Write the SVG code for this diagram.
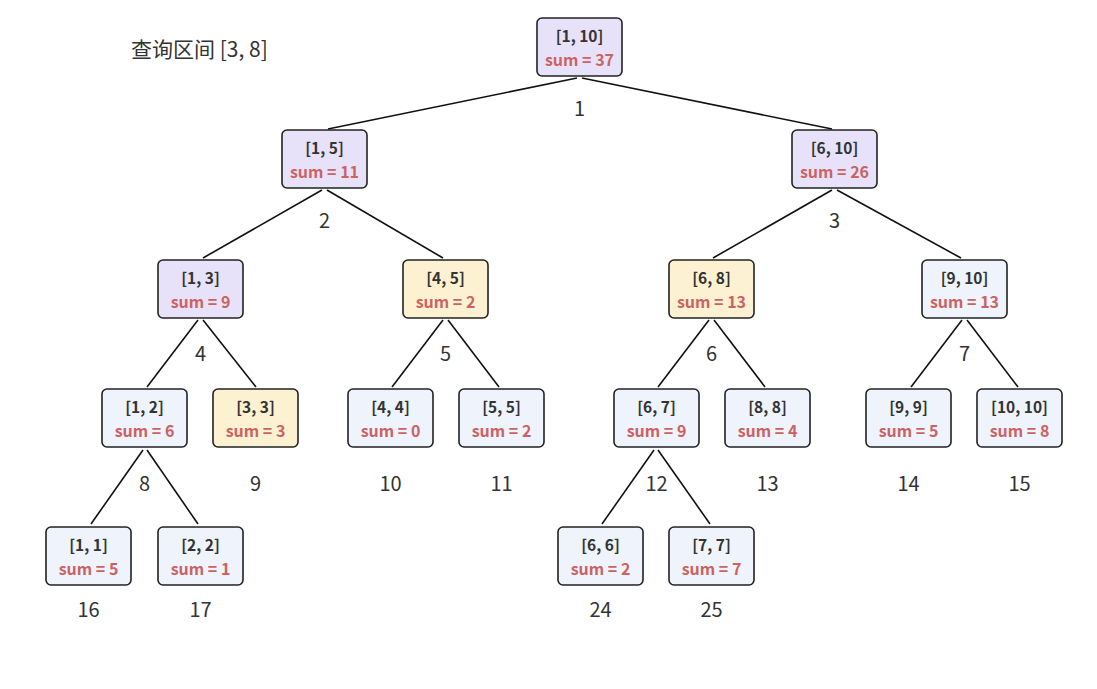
<svg xmlns="http://www.w3.org/2000/svg" width="1097" height="689" viewBox="0 0 1097 689">
<style>
.box{stroke:#222;stroke-width:1.6}
.p{fill:#E7E2FA}.y{fill:#FCF2D2}.b{fill:#EFF3FC}
.t{font-family:"Noto Sans CJK SC","Noto Sans",sans-serif;font-size:15.5px;font-weight:bold;fill:#333;text-anchor:middle}
.s{font-family:"Noto Sans CJK SC","Noto Sans",sans-serif;font-size:16px;font-weight:600;fill:#CC6262;text-anchor:middle}
.i{font-family:"Noto Sans CJK SC","Noto Sans",sans-serif;font-size:20px;fill:#333;text-anchor:middle}
.e{stroke:#111;stroke-width:1.6;fill:none}
</style>
<rect width="1097" height="689" fill="#fff"/>
<text x="131" y="57" style="font-family:'Noto Sans CJK SC','Noto Sans',sans-serif;font-size:21px;fill:#333">查询区间 [3, 8]</text>
<g id="edges">
<line class="e" x1="577" y1="78" x2="328" y2="129"/>
<line class="e" x1="582" y1="78" x2="832" y2="129"/>
<line class="e" x1="322" y1="190" x2="203" y2="258"/>
<line class="e" x1="327" y1="190" x2="443" y2="258"/>
<line class="e" x1="832" y1="190" x2="713" y2="258"/>
<line class="e" x1="837" y1="190" x2="961" y2="258"/>
<line class="e" x1="198" y1="320" x2="147" y2="387"/>
<line class="e" x1="203" y1="320" x2="256" y2="387"/>
<line class="e" x1="443" y1="320" x2="392" y2="387"/>
<line class="e" x1="448" y1="320" x2="499" y2="387"/>
<line class="e" x1="709" y1="320" x2="658" y2="387"/>
<line class="e" x1="714" y1="320" x2="765" y2="387"/>
<line class="e" x1="962" y1="320" x2="911" y2="387"/>
<line class="e" x1="967" y1="320" x2="1018" y2="387"/>
<line class="e" x1="143" y1="450" x2="91" y2="524"/>
<line class="e" x1="147" y1="450" x2="198" y2="524"/>
<line class="e" x1="654" y1="450" x2="602" y2="524"/>
<line class="e" x1="658" y1="450" x2="710" y2="524"/>
</g>
<g id="n1"><rect class="box p" x="537" y="18" width="85" height="58" rx="5"/><text class="t" x="579.5" y="42">[1, 10]</text><text class="s" x="579.5" y="66">sum = 37</text><text class="i" x="579.5" y="116">1</text></g>
<g id="n2"><rect class="box p" x="282" y="130" width="85" height="58" rx="5"/><text class="t" x="324.5" y="154">[1, 5]</text><text class="s" x="324.5" y="178">sum = 11</text><text class="i" x="324.5" y="228">2</text></g>
<g id="n3"><rect class="box p" x="792" y="130" width="85" height="58" rx="5"/><text class="t" x="834.5" y="154">[6, 10]</text><text class="s" x="834.5" y="178">sum = 26</text><text class="i" x="834.5" y="228">3</text></g>
<g id="n4"><rect class="box p" x="158" y="260" width="85" height="58" rx="5"/><text class="t" x="200.5" y="284">[1, 3]</text><text class="s" x="200.5" y="308">sum = 9</text><text class="i" x="200.5" y="361">4</text></g>
<g id="n5"><rect class="box y" x="403" y="260" width="85" height="58" rx="5"/><text class="t" x="445.5" y="284">[4, 5]</text><text class="s" x="445.5" y="308">sum = 2</text><text class="i" x="445.5" y="361">5</text></g>
<g id="n6"><rect class="box y" x="669" y="260" width="85" height="58" rx="5"/><text class="t" x="711.5" y="284">[6, 8]</text><text class="s" x="711.5" y="308">sum = 13</text><text class="i" x="711.5" y="361">6</text></g>
<g id="n7"><rect class="box b" x="922" y="260" width="85" height="58" rx="5"/><text class="t" x="964.5" y="284">[9, 10]</text><text class="s" x="964.5" y="308">sum = 13</text><text class="i" x="964.5" y="361">7</text></g>
<g id="n8"><rect class="box b" x="102" y="389" width="85" height="58" rx="5"/><text class="t" x="144.5" y="413">[1, 2]</text><text class="s" x="144.5" y="437">sum = 6</text><text class="i" x="144.5" y="491">8</text></g>
<g id="n9"><rect class="box y" x="213" y="389" width="85" height="58" rx="5"/><text class="t" x="255.5" y="413">[3, 3]</text><text class="s" x="255.5" y="437">sum = 3</text><text class="i" x="255.5" y="491">9</text></g>
<g id="n10"><rect class="box b" x="348" y="389" width="85" height="58" rx="5"/><text class="t" x="390.5" y="413">[4, 4]</text><text class="s" x="390.5" y="437">sum = 0</text><text class="i" x="390.5" y="491">10</text></g>
<g id="n11"><rect class="box b" x="459" y="389" width="85" height="58" rx="5"/><text class="t" x="501.5" y="413">[5, 5]</text><text class="s" x="501.5" y="437">sum = 2</text><text class="i" x="501.5" y="491">11</text></g>
<g id="n12"><rect class="box b" x="614" y="389" width="85" height="58" rx="5"/><text class="t" x="656.5" y="413">[6, 7]</text><text class="s" x="656.5" y="437">sum = 9</text><text class="i" x="656.5" y="491">12</text></g>
<g id="n13"><rect class="box b" x="725" y="389" width="85" height="58" rx="5"/><text class="t" x="767.5" y="413">[8, 8]</text><text class="s" x="767.5" y="437">sum = 4</text><text class="i" x="767.5" y="491">13</text></g>
<g id="n14"><rect class="box b" x="866" y="389" width="85" height="58" rx="5"/><text class="t" x="908.5" y="413">[9, 9]</text><text class="s" x="908.5" y="437">sum = 5</text><text class="i" x="908.5" y="491">14</text></g>
<g id="n15"><rect class="box b" x="977" y="389" width="85" height="58" rx="5"/><text class="t" x="1019.5" y="413">[10, 10]</text><text class="s" x="1019.5" y="437">sum = 8</text><text class="i" x="1019.5" y="491">15</text></g>
<g id="n16"><rect class="box b" x="46" y="527" width="85" height="58" rx="5"/><text class="t" x="88.5" y="551">[1, 1]</text><text class="s" x="88.5" y="575">sum = 5</text><text class="i" x="88.5" y="617">16</text></g>
<g id="n17"><rect class="box b" x="158" y="527" width="85" height="58" rx="5"/><text class="t" x="200.5" y="551">[2, 2]</text><text class="s" x="200.5" y="575">sum = 1</text><text class="i" x="200.5" y="617">17</text></g>
<g id="n24"><rect class="box b" x="558" y="527" width="85" height="58" rx="5"/><text class="t" x="600.5" y="551">[6, 6]</text><text class="s" x="600.5" y="575">sum = 2</text><text class="i" x="600.5" y="617">24</text></g>
<g id="n25"><rect class="box b" x="669" y="527" width="85" height="58" rx="5"/><text class="t" x="711.5" y="551">[7, 7]</text><text class="s" x="711.5" y="575">sum = 7</text><text class="i" x="711.5" y="617">25</text></g>
</svg>
